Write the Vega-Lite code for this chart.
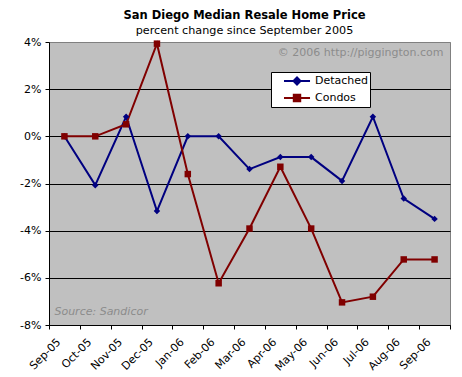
{
  "$schema": "https://vega.github.io/schema/vega-lite/v6.json",
  "autosize": {"type": "none"},
  "width": 401,
  "height": 283,
  "padding": {"left": 49, "top": 42, "right": 12, "bottom": 52},
  "background": "white",
  "title": {
    "text": "San Diego Median Resale Home Price",
    "subtitle": "percent change since September 2005",
    "anchor": "middle",
    "frame": "group",
    "dx": -5,
    "offset": 0,
    "font": "DejaVu Sans",
    "fontSize": 11.5,
    "fontWeight": "bold",
    "color": "black",
    "subtitleFont": "DejaVu Sans",
    "subtitleFontSize": 11.2,
    "subtitleColor": "black",
    "subtitlePadding": 3
  },
  "data": {
    "values": [
      {"month": "Sep-05", "series": "Detached", "value": 0},
      {"month": "Oct-05", "series": "Detached", "value": -2.07},
      {"month": "Nov-05", "series": "Detached", "value": 0.83},
      {"month": "Dec-05", "series": "Detached", "value": -3.17},
      {"month": "Jan-06", "series": "Detached", "value": 0},
      {"month": "Feb-06", "series": "Detached", "value": 0},
      {"month": "Mar-06", "series": "Detached", "value": -1.39},
      {"month": "Apr-06", "series": "Detached", "value": -0.88},
      {"month": "May-06", "series": "Detached", "value": -0.88},
      {"month": "Jun-06", "series": "Detached", "value": -1.89},
      {"month": "Jul-06", "series": "Detached", "value": 0.83},
      {"month": "Aug-06", "series": "Detached", "value": -2.64},
      {"month": "Sep-06", "series": "Detached", "value": -3.5},
      {"month": "Sep-05", "series": "Condos", "value": 0},
      {"month": "Oct-05", "series": "Condos", "value": 0},
      {"month": "Nov-05", "series": "Condos", "value": 0.51},
      {"month": "Dec-05", "series": "Condos", "value": 3.93},
      {"month": "Jan-06", "series": "Condos", "value": -1.6},
      {"month": "Feb-06", "series": "Condos", "value": -6.23},
      {"month": "Mar-06", "series": "Condos", "value": -3.91},
      {"month": "Apr-06", "series": "Condos", "value": -1.29},
      {"month": "May-06", "series": "Condos", "value": -3.91},
      {"month": "Jun-06", "series": "Condos", "value": -7.04},
      {"month": "Jul-06", "series": "Condos", "value": -6.8},
      {"month": "Aug-06", "series": "Condos", "value": -5.22},
      {"month": "Sep-06", "series": "Condos", "value": -5.22}
    ]
  },
  "encoding": {
    "x": {
      "field": "month",
      "type": "ordinal",
      "sort": ["Sep-05","Oct-05","Nov-05","Dec-05","Jan-06","Feb-06","Mar-06","Apr-06","May-06","Jun-06","Jul-06","Aug-06","Sep-06"],
      "scale": {"type": "band", "paddingInner": 0, "paddingOuter": 0},
      "axis": {
        "title": null,
        "tickBand": "extent",
        "labelAngle": -45,
        "labelAlign": "right",
        "labelBaseline": "top",
        "labelOffset": -10,
        "labelPadding": 7,
        "tickSize": 4,
        "tickColor": "black",
        "domainColor": "black",
        "labelFont": "DejaVu Sans",
        "labelFontSize": 11,
        "labelColor": "black",
        "grid": false
      }
    },
    "y": {
      "field": "value",
      "type": "quantitative",
      "scale": {"domain": [-8, 4], "nice": false, "zero": false},
      "axis": {
        "title": null,
        "values": [-8, -6, -4, -2, 0, 2, 4],
        "labelExpr": "datum.value + '%'",
        "tickSize": 4,
        "labelPadding": 4,
        "tickColor": "black",
        "domainColor": "black",
        "grid": true,
        "gridColor": {"condition": {"test": "datum.value == 4", "value": "#808080"}, "value": "black"},
        "gridOpacity": 1,
        "labelFont": "DejaVu Sans",
        "labelFontSize": 11,
        "labelColor": "black"
      }
    },
    "color": {
      "field": "series",
      "type": "nominal",
      "scale": {"domain": ["Detached", "Condos"], "range": ["#000080", "#800000"]},
      "legend": {
        "title": null,
        "orient": "none",
        "legendX": 222,
        "legendY": 30,
        "padding": 1,
        "strokeColor": "black",
        "fillColor": "white",
        "cornerRadius": 0,
        "symbolSize": 196,
        "symbolStrokeWidth": 2,
        "labelFont": "DejaVu Sans",
        "labelFontSize": 11,
        "labelColor": "black",
        "labelOffset": 27,
        "rowPadding": 1,
        "labelExpr": "datum.label + '\u00a0\u00a0'",
        "encode": {
          "symbols": {
            "update": {
              "shape": {"signal": "datum.value === 'Detached' ? 'M0.57,0H1.93M2.93,0H4.29M1.93,0L2.43,-0.5L2.93,0L2.43,0.5Z' : 'M0.57,0H1.97M2.89,0H4.29M1.97,-0.46H2.89V0.46H1.97Z'"},
              "fill": {"signal": "datum.value === 'Detached' ? '#000080' : '#800000'"},
              "stroke": {"signal": "datum.value === 'Detached' ? '#000080' : '#800000'"},
              "strokeWidth": {"value": 2},
              "opacity": {"value": 1}
            }
          }
        }
      }
    }
  },
  "layer": [
    {
      "mark": {"type": "line", "strokeWidth": 2}
    },
    {
      "transform": [{"filter": "datum.series === 'Detached'"}],
      "mark": {"type": "point", "filled": true, "opacity": 1, "size": 42, "shape": "diamond"}
    },
    {
      "transform": [{"filter": "datum.series === 'Condos'"}],
      "mark": {"type": "point", "filled": true, "opacity": 1, "size": 42, "shape": "square"}
    },
    {
      "data": {"values": [{"label": "© 2006 http://piggington.com", "month": "Sep-06", "value": 3.53}]},
      "mark": {"type": "text", "align": "right", "baseline": "middle", "dx": 9, "font": "DejaVu Sans", "fontSize": 11, "color": "#8c8c8c"},
      "encoding": {
        "text": {"field": "label"},
        "color": null
      }
    },
    {
      "data": {"values": [{"label": "Source: Sandicor", "month": "Sep-05", "value": -7.45}]},
      "mark": {"type": "text", "align": "left", "baseline": "middle", "dx": -10, "font": "DejaVu Sans", "fontSize": 11, "fontStyle": "italic", "color": "#8c8c8c"},
      "encoding": {
        "text": {"field": "label"},
        "color": null
      }
    }
  ],
  "config": {
    "view": {"stroke": "#808080", "fill": "#c0c0c0"},
    "axis": {"domainWidth": 1, "tickWidth": 1, "gridWidth": 1}
  }
}
